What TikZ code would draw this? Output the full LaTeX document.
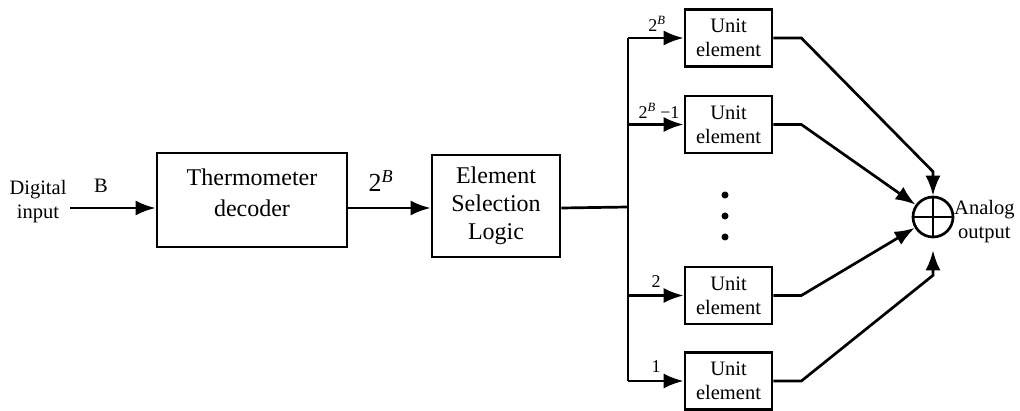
\documentclass[tikz,border=0pt]{standalone}
\usepackage{fontspec}
\setmainfont{Liberation Serif}
\usetikzlibrary{arrows.meta,calc}
\begin{document}
\begin{tikzpicture}[x=1pt,y=-1pt,
  wire/.style={line width=2.7pt},
  arr/.style={wire,-{Latex[length=20pt,width=15pt]}},
  blk/.style={draw,line width=2.7pt,inner sep=0pt},
  big/.style={font=\fontsize{24}{31}\selectfont,align=center},
  small/.style={font=\fontsize{20.5}{24}\selectfont,align=center},
  lbl/.style={font=\fontsize{18}{20}\selectfont,inner sep=0pt},
  unitbox/.style={blk,minimum width=87pt,minimum height=57pt,small},
  dot/.style={circle,fill,inner sep=0pt,minimum size=7pt},
]
\useasboundingbox (0,0) rectangle (1020,411);

% input
\node[small] (din) at (38,202) {Digital\\input};
\coordinate (in) at (70,208);

% main blocks
\node[blk,minimum width=190pt,minimum height=94pt] (therm) at (252,200) {};
\node[big] (thermtxt) at (252,193) {Thermometer\\decoder};
\node[blk,minimum width=128pt,minimum height=102pt,big,font=\fontsize{24}{28}\selectfont] (esl) at (496,206) {Element\\Selection\\Logic};

\draw[arr] (in) -- (in -| therm.west);
\node[small] (lb) at (101,186) {B};
\draw[arr] (in -| therm.east) -- (in -| esl.west);
\node[big,font=\fontsize{26}{31}\selectfont] (l2b) at (381,181) {2\textsuperscript{\textit{B}}};

% bus
\coordinate (bus) at (628,207);
\draw[wire] (in -| esl.east) -- (bus);

% unit elements
\node[unitbox] (u1) at (728.5,38) {Unit\\element};
\node[unitbox] (u2) at (728.5,124.5) {Unit\\element};
\node[unitbox] (u3) at (728.5,295.5) {Unit\\element};
\node[unitbox] (u4) at (728.5,381) {Unit\\element};

\draw[wire] (u1.west -| bus) -- (u4.west -| bus);
\foreach \u in {u1,u2,u3,u4}
  \draw[arr] (\u.west -| bus) -- (\u.west);

\node[lbl] (t1) at (657,24) {2\textsuperscript{\textit{B}}};
\node[lbl] (t2) at (659,111) {2\textsuperscript{\textit{B}} −1};
\node[lbl] (t3) at (656,282) {2};
\node[lbl] (t4) at (656,367) {1};

% dots
\node[dot] (d1) at (725,195) {};
\node[dot] (d2) at (725,216) {};
\node[dot] (d3) at (725,237) {};

% summer
\node[draw,circle,line width=2.7pt,minimum size=40pt,inner sep=0pt] (sum) at (933,217) {};
\draw[wire] (sum.north) -- (sum.south) (sum.west) -- (sum.east);
\node[small,anchor=west,inner sep=0pt] (aout) at (954,222) {Analog\\output};

% outputs to summer
\draw[arr] (u1.east) -- ++(28,0) -- ($(sum.north)+(0,-24)$) -- (sum.north);
\draw[arr] (u2.east) -- ++(28,0) -- (sum);
\draw[arr] (u3.east) -- ++(28,0) -- (sum);
\draw[arr] (u4.east) -- ++(28,0) -- ($(sum.south)+(0,37)$) -- ($(sum.south)+(0,12)$);
\end{tikzpicture}
\end{document}
